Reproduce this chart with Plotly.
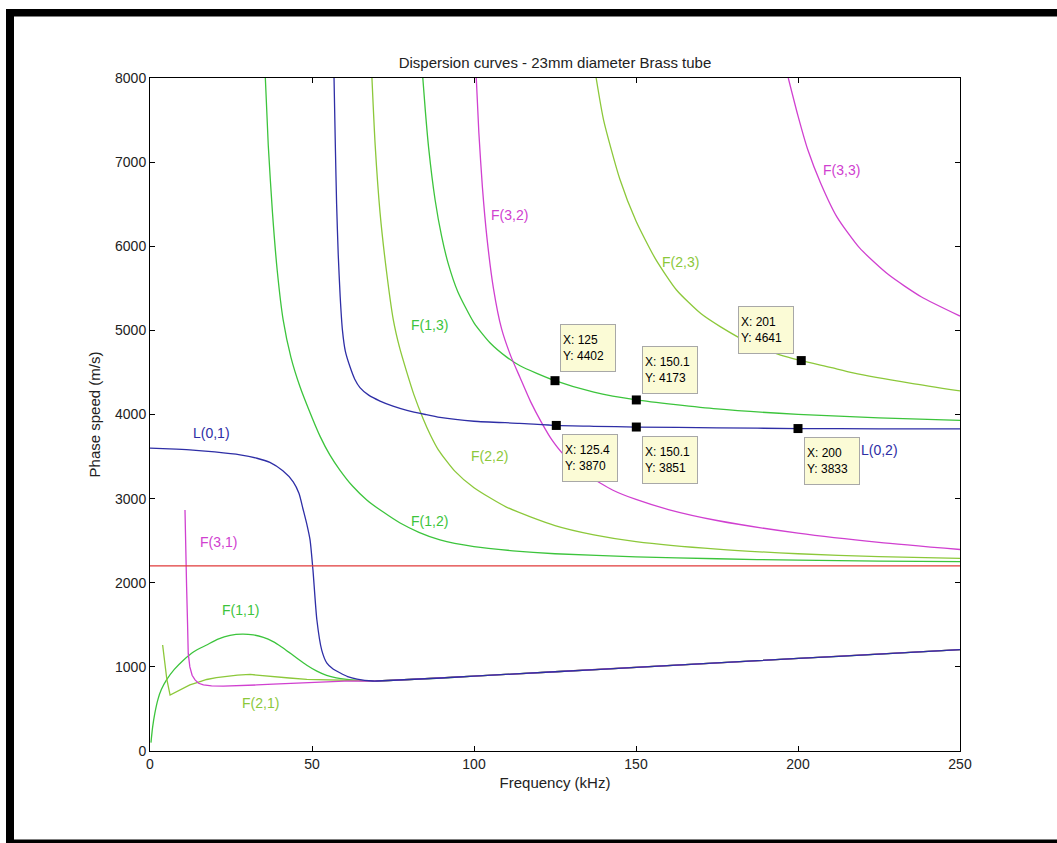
import plotly.graph_objects as go

# ---------------- data ----------------
tail_f = [70, 80, 90, 100, 125, 150, 175, 200, 225, 250]
tail_v = [832, 850, 868, 890, 942, 995, 1048, 1100, 1152, 1205]

L01_f = [0, 6, 12.3, 20, 27.8, 33, 37, 41, 44.2, 46, 47.2, 48.5, 49.4, 50.3, 51.5, 53, 54.6, 56.5, 58.6, 61, 63.9, 68.8]
L01_v = [3600, 3592, 3580, 3555, 3520, 3480, 3430, 3330, 3200, 3060, 2880, 2680, 2510, 2150, 1560, 1200, 1045, 975, 930, 885, 855, 832]

L02_f = [56.8, 57.2, 57.6, 58.1, 58.7, 59.4, 60.3, 61.7, 63.2, 64.8, 67.5, 71, 75, 79.3, 85, 89.5, 100, 114, 125.4, 137, 150.1, 175, 200, 225, 250]
L02_v = [8000, 7200, 6500, 5900, 5400, 5000, 4750, 4570, 4420, 4320, 4230, 4160, 4100, 4050, 4000, 3965, 3920, 3895, 3870, 3860, 3851, 3842, 3833, 3830, 3828]

F11_f = [0.3, 0.8, 1.5, 2.5, 3.5, 5.1, 7.5, 10.3, 13.5, 17.5, 21, 24.7, 28.5, 31.9, 35, 38, 40.5, 43.2, 45.8, 48.4, 51.5, 54.5, 57.5, 60.7, 64.5, 68.8]
F11_v = [100, 280, 450, 620, 730, 845, 970, 1080, 1180, 1260, 1330, 1375, 1390, 1380, 1350, 1300, 1240, 1165, 1090, 1020, 950, 900, 870, 852, 840, 832]

F21_f = [3.9, 4.5, 5.2, 6.2, 8, 10, 12.3, 15, 17.5, 20.5, 23.7, 27, 30.9, 34.5, 38, 43, 48.4, 53, 58.6, 63, 68.8]
F21_v = [1260, 1050, 850, 665, 700, 745, 785, 820, 850, 872, 890, 902, 910, 900, 885, 868, 852, 846, 842, 836, 832]

F31_f = [10.8, 10.9, 11.1, 11.3, 11.6, 11.8, 12.3, 13, 13.9, 15, 16.5, 19, 22.6, 28, 33, 38, 45, 53.5, 60, 68.8]
F31_v = [2865, 2600, 2250, 1950, 1500, 1160, 1000, 900, 845, 805, 785, 775, 770, 775, 785, 795, 808, 825, 830, 834]

F12_f = [35.6, 36.5, 37.8, 39.3, 41.1, 43.5, 46.3, 49, 52.5, 55.5, 58.6, 62.5, 66.9, 72, 77.2, 83, 89.5, 100, 112, 125, 150, 175, 200, 225, 250]
F12_v = [8000, 7200, 6400, 5700, 5125, 4680, 4330, 4060, 3740, 3520, 3340, 3150, 2985, 2840, 2710, 2600, 2510, 2430, 2380, 2345, 2308, 2285, 2268, 2258, 2250]

F22_f = [68.5, 69.5, 71, 73, 75.1, 77, 79.2, 81.5, 84.3, 86.5, 89, 94, 100, 110, 125, 137, 150, 175, 200, 225, 250]
F22_v = [8000, 7200, 6400, 5700, 5125, 4800, 4510, 4230, 3950, 3760, 3580, 3330, 3130, 2900, 2680, 2570, 2490, 2400, 2345, 2310, 2290]

F13_f = [84.2, 85, 86, 88, 90, 92, 95, 100, 105, 110, 114.2, 125, 137, 150.1, 175, 200, 225, 250]
F13_v = [8000, 7600, 7170, 6550, 6120, 5800, 5460, 5090, 4850, 4685, 4579, 4402, 4265, 4173, 4066, 4002, 3960, 3930]

F32_f = [100.7, 101.5, 102.6, 104, 106, 108.5, 111.3, 114.2, 117.5, 120.9, 124, 127.5, 135, 142.9, 150, 160, 175, 200, 225, 250]
F32_v = [8000, 7350, 6700, 6100, 5500, 5020, 4700, 4440, 4150, 3900, 3700, 3530, 3280, 3100, 2990, 2870, 2740, 2590, 2480, 2395]

F23_f = [137.7, 140, 145, 150, 156, 162.5, 170, 176, 185, 194.4, 201, 210, 217, 235, 250]
F23_v = [8000, 7500, 6800, 6300, 5850, 5480, 5200, 5045, 4850, 4710, 4641, 4560, 4495, 4370, 4280]

F33_f = [197, 200, 203, 207, 212, 219, 228, 238, 250]
F33_v = [8000, 7550, 7150, 6750, 6350, 5980, 5660, 5400, 5170]

red_f = [0, 250]
red_v = [2200, 2200]

tip_x = [125, 150.1, 201, 125.4, 150.1, 200]
tip_y = [4402, 4173, 4641, 3870, 3851, 3833]
tip_text = ["X: 125<br>Y: 4402", "X: 150.1<br>Y: 4173", "X: 201<br>Y: 4641",
            "X: 125.4<br>Y: 3870", "X: 150.1<br>Y: 3851", "X: 200<br>Y: 3833"]

label_text = ["L(0,1)", "F(3,1)", "F(1,1)", "F(2,1)", "F(1,2)", "F(2,2)", "F(1,3)", "F(3,2)", "F(2,3)", "F(3,3)", "L(0,2)"]
label_x = [19.1, 21, 27.8, 34, 86.4, 104.9, 86.4, 111.1, 163.6, 213.5, 225.3]
label_y = [3780, 2485, 1676, 571, 2734, 3507, 5064, 6372, 5813, 6907, 3578]

# ---------------- styles ----------------
BLUE = "#2e2ea6"
GREEN = "#3cc43c"
YGREEN = "#8cc83a"
MAG = "#d040d0"
RED = "#e03a3a"

label_color = [BLUE, MAG, GREEN, YGREEN, GREEN, YGREEN, GREEN, MAG, YGREEN, MAG, BLUE]

fig = go.Figure()

def add(fx, fv, color, tail=False, shape="spline"):
    xs = list(fx) + (tail_f if tail else [])
    ys = list(fv) + (tail_v if tail else [])
    fig.add_trace(go.Scatter(x=xs, y=ys, mode="lines",
                             line=dict(color=color, width=1.3, shape=shape, smoothing=0.6),
                             showlegend=False, hoverinfo="skip"))

add(F11_f, F11_v, GREEN, tail=True)
add(F21_f, F21_v, YGREEN, tail=True, shape="linear")
add(F31_f, F31_v, MAG, tail=True, shape="linear")
add(L01_f, L01_v, BLUE, tail=True)
add(F12_f, F12_v, GREEN)
add(F22_f, F22_v, YGREEN)
add(F13_f, F13_v, GREEN)
add(F23_f, F23_v, YGREEN)
add(F32_f, F32_v, MAG)
add(F33_f, F33_v, MAG)
add(L02_f, L02_v, BLUE)
add(red_f, red_v, RED, shape="linear")

fig.add_trace(go.Scatter(x=tip_x, y=tip_y, mode="markers",
                         marker=dict(symbol="square", size=9, color="black"),
                         showlegend=False, hoverinfo="skip"))

FONT = "Liberation Sans, Arial, sans-serif"

for t, x, y, c in zip(label_text, label_x, label_y, label_color):
    fig.add_annotation(x=x, y=y, text=t, showarrow=False,
                       font=dict(family=FONT, size=14, color=c))

# datatip boxes: (xanchor, yanchor, xshift, yshift)
tip_pos = [("left", "bottom", 5, 9), ("left", "bottom", 6, 6), ("right", "bottom", -7, 7),
           ("left", "top", 6, -9), ("left", "top", 6, -9), ("left", "top", 6, -8)]
for x, y, t, (xa, ya, xs, ys) in zip(tip_x, tip_y, tip_text, tip_pos):
    fig.add_annotation(x=x, y=y, text=t, showarrow=False, xanchor=xa, yanchor=ya,
                       xshift=xs, yshift=ys, align="left",
                       width=50, height=42, borderpad=2,
                       bgcolor="#fbfbd6", bordercolor="#a8a8a8", borderwidth=1,
                       font=dict(family=FONT, size=12, color="black"))

# outer black frame (pixels -> paper coords)
L_, R_, T_, B_ = 150, 960, 78, 751
def px(x):
    return (x - L_) / (R_ - L_)
def py(y):
    return (B_ - y) / (B_ - T_)
frame = [(6, 9, 1057, 16.5), (6, 9, 14, 843), (6, 839.5, 1057, 843)]
for x0, y0, x1, y1 in frame:
    fig.add_shape(type="rect", xref="paper", yref="paper",
                  x0=px(x0), x1=px(x1), y0=py(y1), y1=py(y0),
                  fillcolor="black", line=dict(width=0), layer="above")

axis_common = dict(showgrid=False, zeroline=False, showline=True, linecolor="black",
                   linewidth=1, mirror="ticks", ticks="inside", ticklen=5,
                   tickcolor="black", tickfont=dict(family=FONT, size=14, color="#222"))

fig.update_layout(
    width=1057, height=843,
    margin=dict(l=150, r=97, t=78, b=92),
    paper_bgcolor="white", plot_bgcolor="white",
    title=dict(text="Dispersion curves - 23mm diameter Brass tube",
               xref="paper", x=0.5, xanchor="center", y=1 - 63 / 843, yanchor="middle",
               font=dict(family=FONT, size=15, color="#222")),
    xaxis=dict(range=[0, 250], tickvals=[0, 50, 100, 150, 200, 250],
               title=dict(text="Frequency (kHz)", standoff=6,
                          font=dict(family=FONT, size=15, color="#222")),
               **axis_common),
    yaxis=dict(range=[0, 8000], tickvals=list(range(0, 8001, 1000)),
               title=dict(text="Phase speed (m/s)", standoff=10,
                          font=dict(family=FONT, size=15, color="#222")),
               **axis_common),
)

fig.write_html("out.html")
